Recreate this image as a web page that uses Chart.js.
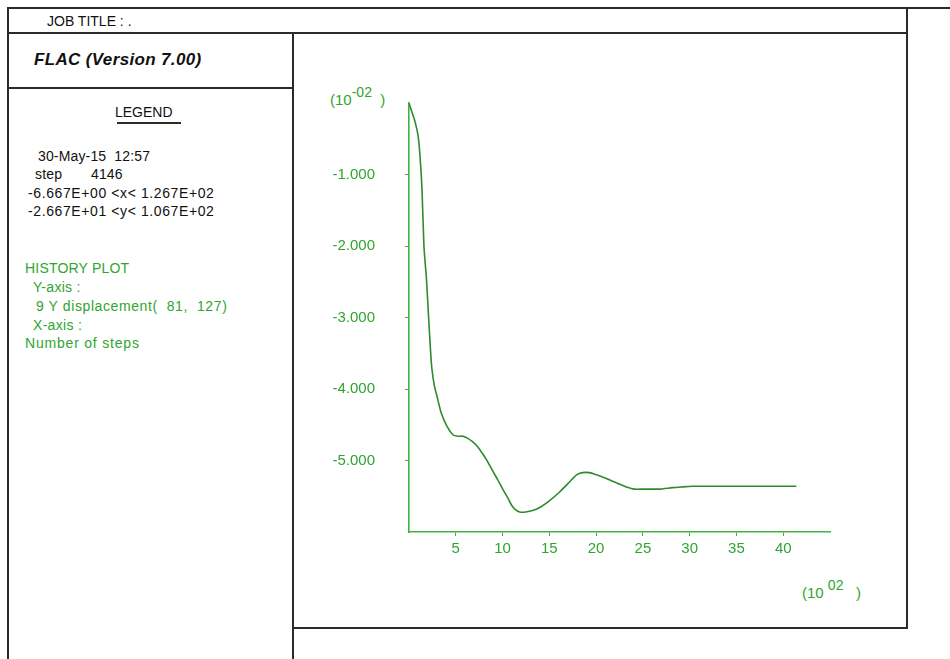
<!DOCTYPE html>
<html>
<head>
<meta charset="utf-8">
<script src="https://cdn.jsdelivr.net/npm/chart.js@4/dist/chart.umd.min.js"></script>
<style>
  html, body { margin: 0; padding: 0; background: #fff; }
  body { width: 950px; height: 659px; position: relative; overflow: hidden;
         font-family: "Liberation Sans", Arial, sans-serif; }
  .ln { position: absolute; background: #2b2b2b; }
  .t  { position: absolute; white-space: pre; font-size: 14px; line-height: 16px; color: #111; }
  .g  { color: #2fa52f; }
  .m  { font-size: 15px; }
  .sup { position: relative; top: -8px; font-size: 14px; }
  #wrap { position: absolute; left: 294px; top: 34px; width: 612px; height: 592px; }
</style>
</head>
<body>
<!-- frame -->
<div class="ln" style="left:8px;top:7px;width:942px;height:2px"></div>
<div class="ln" style="left:8px;top:32px;width:900px;height:2px"></div>
<div class="ln" style="left:7px;top:7px;width:2px;height:652px"></div>
<div class="ln" style="left:292px;top:32px;width:2px;height:627px"></div>
<div class="ln" style="left:906px;top:7px;width:2px;height:622px"></div>
<div class="ln" style="left:8px;top:87px;width:285px;height:2px"></div>
<div class="ln" style="left:293px;top:627px;width:615px;height:2px"></div>

<!-- header / legend panel -->
<div class="t" style="left:47px;top:13px">JOB TITLE : .</div>
<div class="t" style="left:34px;top:50px;font-size:17px;line-height:20px;font-weight:bold;font-style:italic;letter-spacing:0.35px">FLAC (Version 7.00)</div>
<div class="t" style="left:115px;top:104px">LEGEND</div>
<div class="ln" style="left:117px;top:122px;width:64px;height:2px"></div>
<div class="t" style="left:38px;top:148px;letter-spacing:0.15px">30-May-15  12:57</div>
<div class="t" style="left:35px;top:166px;letter-spacing:0.2px">step       4146</div>
<div class="t" style="left:28px;top:185px;letter-spacing:0.6px">-6.667E+00 &lt;x&lt; 1.267E+02</div>
<div class="t" style="left:28px;top:203px;letter-spacing:0.6px">-2.667E+01 &lt;y&lt; 1.067E+02</div>

<div class="t g" style="left:25px;top:260px;letter-spacing:0.2px">HISTORY PLOT</div>
<div class="t g" style="left:33px;top:279px;letter-spacing:0.3px">Y-axis :</div>
<div class="t g" style="left:36px;top:298px;letter-spacing:0.6px">9 Y displacement(  81,  127)</div>
<div class="t g" style="left:33px;top:317px;letter-spacing:0.3px">X-axis :</div>
<div class="t g" style="left:25px;top:335px;letter-spacing:0.8px">Number of steps</div>

<!-- axis multipliers -->
<div class="t g m" style="left:330px;top:92px">(10<span class="sup">-02</span>  )</div>
<div class="t g m" style="left:802px;top:585px">(10 <span class="sup">02</span>   )</div>

<div id="wrap"><canvas id="hist"></canvas></div>

<script>
// ── Data (x: steps in 10^2, y: displacement in 10^-2) ─────
const steps = [
  0, 0.32, 0.64, 0.96, 1.17, 1.39, 1.60, 1.87, 2.08, 2.29,
  2.45, 2.72, 2.99, 3.41, 4.05, 4.69, 5.22, 5.76, 6.29, 6.82,
  7.36, 7.89, 8.42, 8.96, 9.49, 10.02, 10.55, 10.98, 11.41, 11.83,
  12.47, 13.22, 14.07, 15.03, 16.10, 17.16, 17.91, 18.55, 19.30, 20.04,
  20.90, 21.75, 22.49, 23.24, 24.09, 25.16, 26.76, 28.14, 29.10, 30.28,
  33.16, 37.42, 41.40
];
const disp = [
  0, -0.13, -0.26, -0.45, -0.73, -1.21, -2.01, -2.47, -2.96, -3.44,
  -3.72, -3.96, -4.10, -4.32, -4.52, -4.64, -4.66, -4.66, -4.69, -4.74,
  -4.81, -4.91, -5.02, -5.15, -5.27, -5.40, -5.52, -5.63, -5.69, -5.72,
  -5.72, -5.70, -5.65, -5.56, -5.44, -5.30, -5.20, -5.17, -5.17, -5.20,
  -5.24, -5.29, -5.33, -5.37, -5.40, -5.40, -5.40, -5.38, -5.37, -5.36,
  -5.36, -5.36, -5.36
];
const xTickLabels = [5, 10, 15, 20, 25, 30, 35, 40];
const yTickLabels = [-1, -2, -3, -4, -5];

const AXIS_GREEN  = '#3fb23f';
const CURVE_GREEN = '#2d8a2d';
const TEXT_GREEN  = '#2fa52f';
const TICK_FONT   = { family: '"Liberation Sans", Arial', size: 15 };

// ── Chart ─────────────────────────────────────────────────
const ctx = document.getElementById('hist').getContext('2d');
new Chart(ctx, {
  type: 'line',
  data: {
    datasets: [{
      label: '9 Y displacement',
      data: steps.map((s, i) => ({ x: s, y: disp[i] })),
      borderColor: CURVE_GREEN,
      borderWidth: 1.6,
      pointRadius: 0,
      tension: 0.2,
      fill: false
    }]
  },
  options: {
    responsive: true,
    maintainAspectRatio: false,
    animation: false,
    layout: { padding: { left: 0, top: 69, right: 76, bottom: 0 } },
    plugins: { legend: { display: false }, tooltip: { enabled: false } },
    scales: {
      x: {
        type: 'linear', min: 0, max: 45,
        afterFit: s => { s.height = 94; },
        border: { display: true, color: AXIS_GREEN, width: 1.6 },
        grid: { drawOnChartArea: false, drawTicks: true, tickLength: 4, color: AXIS_GREEN },
        ticks: {
          stepSize: 5, padding: 4, maxRotation: 0, autoSkip: false,
          color: TEXT_GREEN, font: TICK_FONT,
          callback: v => xTickLabels.includes(v) ? String(v) : null
        }
      },
      y: {
        type: 'linear', min: -6, max: 0,
        afterFit: s => { s.width = 115; },
        border: { display: true, color: AXIS_GREEN, width: 1.6 },
        grid: { drawOnChartArea: false, drawTicks: true, tickLength: 4, color: AXIS_GREEN },
        ticks: {
          stepSize: 1, padding: 30, autoSkip: false,
          color: TEXT_GREEN, font: TICK_FONT,
          callback: v => yTickLabels.includes(v) ? v.toFixed(3) : null
        }
      }
    }
  }
});
</script>
</body>
</html>
